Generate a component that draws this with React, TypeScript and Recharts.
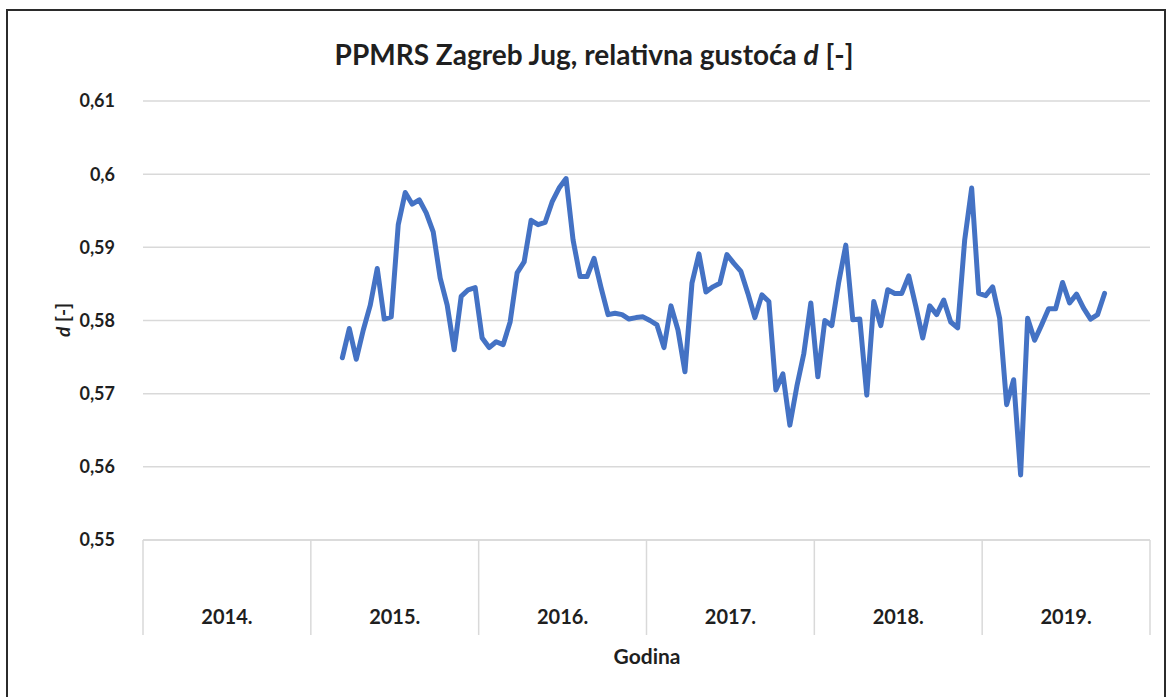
import React from 'react';
import { LineChart, Line, XAxis, YAxis, CartesianGrid } from 'recharts';

// Category axis: 24 periods per year, 2014.–2019.
const YEARS = ['2014.', '2015.', '2016.', '2017.', '2018.', '2019.'];
const PERIODS_PER_YEAR = 24;
const FIRST_PERIOD = 28; // first period with data (2015, 5th period)

// relative density d [-] per period
const D_VALUES = [
  0.5749, 0.5789, 0.5747, 0.5787, 0.5821, 0.5871, 0.5802, 0.5805, 0.5931, 0.5975,
  0.5959, 0.5965, 0.5947, 0.5921, 0.5858, 0.5821, 0.5760, 0.5833, 0.5842, 0.5845,
  0.5776, 0.5763, 0.5771, 0.5767, 0.5798, 0.5865, 0.5880, 0.5937, 0.5931, 0.5934,
  0.5962, 0.5981, 0.5994, 0.5910, 0.5860, 0.5860, 0.5885, 0.5845, 0.5808, 0.5810,
  0.5808, 0.5802, 0.5804, 0.5805, 0.5800, 0.5794, 0.5763, 0.5820, 0.5787, 0.5730,
  0.5851, 0.5891, 0.5839, 0.5846, 0.5851, 0.5890, 0.5878, 0.5867, 0.5837, 0.5804,
  0.5835, 0.5826, 0.5705, 0.5727, 0.5657, 0.5710, 0.5755, 0.5824, 0.5723, 0.5800,
  0.5793, 0.5853, 0.5903, 0.5801, 0.5802, 0.5698, 0.5826, 0.5793, 0.5842, 0.5837,
  0.5837, 0.5861, 0.5820, 0.5776, 0.5820, 0.5808, 0.5828, 0.5798, 0.5790, 0.5910,
  0.5981, 0.5837, 0.5834, 0.5846, 0.5803, 0.5685, 0.5719, 0.5589, 0.5803, 0.5773,
  0.5794, 0.5816, 0.5816, 0.5852, 0.5824, 0.5836, 0.5817, 0.5802, 0.5808, 0.5837,
];

const Y_TICKS = [0.55, 0.56, 0.57, 0.58, 0.59, 0.6, 0.61];

const data = D_VALUES.map((d, k) => ({ period: FIRST_PERIOD + k + 0.5, d }));
const totalPeriods = YEARS.length * PERIODS_PER_YEAR;
const xBoundaries = YEARS.map((_, i) => i * PERIODS_PER_YEAR).concat([totalPeriods]);

const W = 1172;
const H = 697;
const MARGIN = { top: 101, right: 22, left: 0, bottom: 0 };
const Y_AXIS_W = 143;
const X_AXIS_H = 157;
const PLOT_W = W - MARGIN.left - MARGIN.right - Y_AXIS_W;
const YEAR_PX = PLOT_W / YEARS.length;

const FONT = 'Lato, "Liberation Sans", sans-serif';
const TEXT = '#1f1f1f';
const GRID = '#d9d9d9';

const fmt = (v: number) => String(Number(v.toFixed(2))).replace('.', ',');

const YearTick = (props: any) => {
  const { x, y, payload } = props;
  const i = Math.round(payload.value / PERIODS_PER_YEAR);
  return (
    <g>
      <line x1={x} y1={y} x2={x} y2={y + 95} stroke={GRID} strokeWidth={1.5} />
      {i < YEARS.length && (
        <text
          x={x + YEAR_PX / 2}
          y={y + 84}
          textAnchor="middle"
          fontFamily={FONT}
          fontWeight="bold"
          fontSize={20}
          fill={TEXT}
        >
          {YEARS[i]}
        </text>
      )}
    </g>
  );
};

export default function App() {
  return (
    <div style={{ position: 'absolute', left: 0, top: 0, width: W, height: H, background: '#fff', overflow: 'hidden', fontFamily: FONT }}>
      <div style={{ position: 'absolute', left: 6, top: 9, width: 1160, height: 720, border: '2px solid #2b2b2b', boxSizing: 'border-box' }} />
      <div style={{ position: 'absolute', left: 0, top: 0 }}>
        <LineChart width={W} height={H} data={data} margin={MARGIN}>
          <CartesianGrid horizontal vertical={false} stroke={GRID} strokeWidth={1.5} />
          <XAxis
            dataKey="period"
            type="number"
            domain={[0, totalPeriods]}
            ticks={xBoundaries}
            interval={0}
            height={X_AXIS_H}
            tickSize={0}
            tickMargin={0}
            tickLine={false}
            axisLine={{ stroke: GRID, strokeWidth: 1.5 }}
            tick={<YearTick />}
            allowDataOverflow
          />
          <YAxis
            type="number"
            domain={[0.55, 0.61]}
            ticks={Y_TICKS}
            interval={0}
            width={Y_AXIS_W}
            axisLine={false}
            tickLine={false}
            tickMargin={22}
            tickFormatter={fmt}
            tick={{ fontFamily: FONT, fontWeight: 'bold', fontSize: 18, fill: TEXT }}
          />
          <Line
            type="linear"
            dataKey="d"
            stroke="#4472C4"
            strokeWidth={5}
            strokeLinejoin="round"
            strokeLinecap="round"
            dot={false}
            activeDot={false}
            isAnimationActive={false}
          />
        </LineChart>
      </div>
      <div style={{ position: 'absolute', left: 0, width: W + 16, top: 36, textAlign: 'center', fontSize: 28, lineHeight: '36px', fontWeight: 'bold', color: TEXT, whiteSpace: 'nowrap' }}>
        PPMRS Zagreb Jug, relativna gustoća <i>d</i> [-]
      </div>
      <div style={{ position: 'absolute', left: 62, top: 320, transform: 'translate(-50%, -50%) rotate(-90deg)', fontSize: 19, fontWeight: 'bold', color: TEXT, whiteSpace: 'nowrap' }}>
        <i>d</i> [-]
      </div>
      <div style={{ position: 'absolute', left: 647, top: 655, transform: 'translate(-50%, -50%)', fontSize: 21, fontWeight: 'bold', color: TEXT, whiteSpace: 'nowrap' }}>
        Godina
      </div>
    </div>
  );
}
